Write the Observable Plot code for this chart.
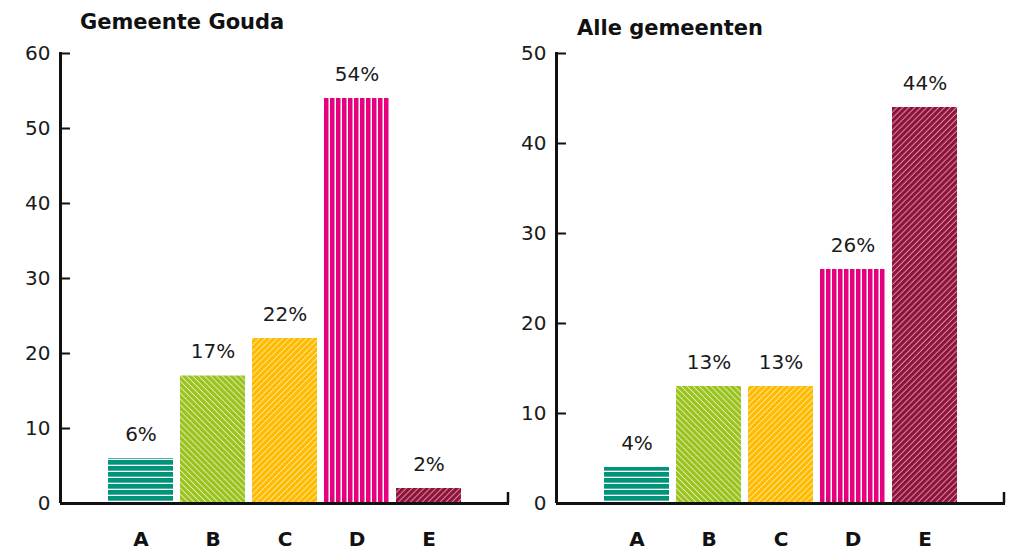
<!DOCTYPE html>
<html><head><meta charset="utf-8">
<script src="https://cdn.jsdelivr.net/npm/d3@7"></script>
<script src="https://cdn.jsdelivr.net/npm/@observablehq/plot@0.6"></script>
<style>
body{margin:0;background:#fff;font-family:"DejaVu Sans",sans-serif;}
#wrap{position:relative;width:1016px;height:552px;overflow:hidden;background:#fff}
.chart{position:absolute;top:0;width:520px}
.title{height:40px;box-sizing:border-box;font-size:21px;font-weight:700;line-height:20px;white-space:nowrap;color:#111}
</style></head>
<body>
<svg width="0" height="0" style="position:absolute">
<defs>
<pattern id="patA" patternUnits="userSpaceOnUse" width="8" height="6">
<rect width="8" height="6" fill="#00957A"/><rect y="4.7" width="8" height="1.3" fill="#fff"/>
</pattern>
<pattern id="patB" patternUnits="userSpaceOnUse" width="4.2" height="8" patternTransform="rotate(-45)">
<rect width="4.2" height="8" fill="#9BC31D"/><rect x="3.3" width="0.9" height="8" fill="#fff" fill-opacity="0.7"/>
</pattern>
<pattern id="patC" patternUnits="userSpaceOnUse" width="4.2" height="8" patternTransform="rotate(45)">
<rect width="4.2" height="8" fill="#FFBB00"/><rect x="3.3" width="0.9" height="8" fill="#fff" fill-opacity="0.65"/>
</pattern>
<pattern id="patD" patternUnits="userSpaceOnUse" width="6" height="8">
<rect width="6" height="8" fill="#E6007E"/><rect x="4.5" width="1.5" height="8" fill="#fff"/>
</pattern>
<pattern id="patE" patternUnits="userSpaceOnUse" width="4.2" height="8" patternTransform="rotate(45)">
<rect width="4.2" height="8" fill="#8B1538"/><rect x="3.2" width="1" height="8" fill="#F2A7C3" fill-opacity="0.8"/>
</pattern>
</defs>
</svg>
<div id="wrap"></div>
<script>
const categories = ["A", "B", "C", "D", "E"];
const goudaValues = [6, 17, 22, 54, 2];
const alleValues = [4, 13, 13, 26, 44];
const goudaTicks = [0, 10, 20, 30, 40, 50, 60];
const alleTicks = [0, 10, 20, 30, 40, 50];
const titles = ["Gemeente Gouda", "Alle gemeenten"];
const patternFills = ["url(#patA)", "url(#patB)", "url(#patC)", "url(#patD)", "url(#patE)"];

function makeChart(values, ticks, title, left, titleTop, titleLeft) {
  const data = categories.map((c, i) => ({cat: c, value: values[i], fill: patternFills[i]}));
  const W = 520, H = 512, ml = 60, mr = 11, mt = 13, mb = 49;
  const plot = Plot.plot({
    width: W, height: H,
    marginLeft: ml, marginRight: mr, marginTop: mt, marginBottom: mb,
    style: {background: "transparent", fontFamily: "DejaVu Sans, sans-serif", color: "#1a1a1a", overflow: "visible"},
    x: {domain: categories, paddingInner: 0.1, paddingOuter: 0.667, label: null},
    y: {domain: [0, d3.max(ticks)], label: null},
    color: {type: "identity"},
    marks: [
      Plot.barY(data, {x: "cat", y: "value", fill: "fill"}),
      Plot.text(data, {x: "cat", y: "value", text: d => `${d.value}%`, dy: -24, fontSize: 20, fill: "#1a1a1a"}),
      Plot.axisY(ticks, {tickSize: 0, tickPadding: 10, fontSize: 20, fill: "#1a1a1a", label: null}),
      Plot.axisX({tickSize: 0, tickPadding: 28, fontSize: 20, fontWeight: "bold", fill: "#111", label: null}),
      Plot.ruleY(ticks.filter(t => t > 0), {stroke: "#111", strokeWidth: 2, insetRight: W - ml - mr - 10}),
      Plot.ruleY([0], {stroke: "#111", strokeWidth: 3})
    ]
  });
  const y = plot.scale("y");
  const svg = d3.select(plot);
  const y0 = y.apply(0), yTop = y.apply(d3.max(ticks));
  svg.append("path")
    .attr("d", `M${ml + 0.5},${yTop - 1}V${y0}`)
    .attr("stroke", "#111").attr("stroke-width", 3).attr("fill", "none");
  svg.append("path")
    .attr("d", `M${W - mr - 1},${y0}V${y0 - 11}`)
    .attr("stroke", "#111").attr("stroke-width", 2.5).attr("fill", "none");

  const div = document.createElement("div");
  div.className = "chart";
  div.style.left = left + "px";
  const t = document.createElement("div");
  t.className = "title";
  t.style.paddingTop = titleTop + "px";
  t.style.paddingLeft = titleLeft + "px";
  t.textContent = title;
  div.appendChild(t);
  div.appendChild(plot);
  document.getElementById("wrap").appendChild(div);
}

makeChart(goudaValues, goudaTicks, titles[0], 0, 12, 80);
makeChart(alleValues, alleTicks, titles[1], 496, 18, 81);
</script>
</body></html>
